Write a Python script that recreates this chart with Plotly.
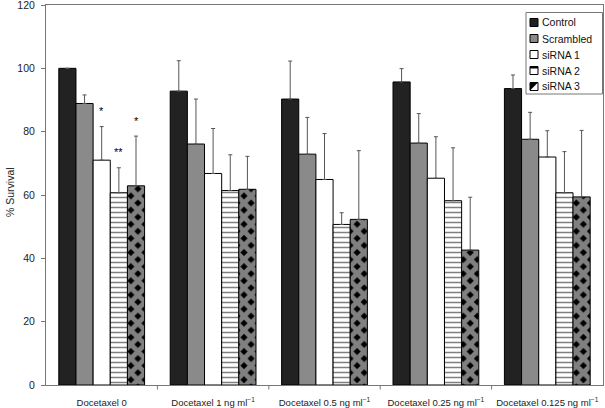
import plotly.graph_objects as go

categories = ["Docetaxel 0", "Docetaxel 1 ng ml<sup>\u22121</sup>", "Docetaxel 0.5 ng ml<sup>\u22121</sup>",
              "Docetaxel 0.25 ng ml<sup>\u22121</sup>", "Docetaxel 0.125 ng ml<sup>\u22121</sup>"]
series_names = ["Control", "Scrambled", "siRNA 1", "siRNA 2", "siRNA 3"]

control = [100.0, 92.8, 90.3, 95.7, 93.6]
scrambled = [88.9, 76.1, 72.9, 76.4, 77.6]
sirna1 = [71.0, 66.8, 64.9, 65.3, 72.0]
sirna2 = [60.7, 61.4, 50.7, 58.2, 60.7]
sirna3 = [62.9, 61.8, 52.3, 42.6, 59.4]

control_err = [0.0, 9.6, 12.0, 4.2, 4.3]
scrambled_err = [2.7, 14.2, 11.6, 9.3, 8.5]
sirna1_err = [10.6, 14.2, 14.5, 13.1, 8.3]
sirna2_err = [7.9, 11.3, 3.7, 16.7, 13.0]
sirna3_err = [15.7, 10.4, 21.7, 16.7, 21.0]

# significance marks: (group index, series index, label)
stars = [(0, 2, "*"), (0, 3, "**"), (0, 4, "*")]

values = [control, scrambled, sirna1, sirna2, sirna3]
errors = [control_err, scrambled_err, sirna1_err, sirna2_err, sirna3_err]

styles = [
    dict(color="#222222"),
    dict(color="#8a8a8a"),
    dict(color="white"),
    dict(color="white", pattern=dict(shape="-", fgcolor="black", bgcolor="white", size=5, solidity=0.3)),
    dict(color="white", pattern=dict(shape="x", fgcolor="white", bgcolor="black", size=10, solidity=0.75)),
]

W, H = 605, 408
L, R, T, B = 46, 2, 5, 23
PW, PH = W - L - R, H - T - B


def px(xp):
    return (xp - L) / PW


def py(yp):
    return (H - B - yp) / PH


fig = go.Figure()
for name, vals, errs, st in zip(series_names, values, errors, styles):
    fig.add_trace(go.Bar(
        name=name, x=list(range(len(categories))), y=vals, showlegend=False,
        marker=dict(line=dict(color="black", width=1), **st),
        error_y=dict(type="data", symmetric=False, array=errs, arrayminus=[0] * len(errs),
                     color="#555555", thickness=1, width=2),
    ))

gap = 0.23
bw = (1 - gap) / len(series_names)
for g, s, lab in stars:
    top = values[s][g] + errors[s][g]
    fig.add_annotation(x=g + (s - 2) * bw, y=top + 2.4, text=lab, showarrow=False,
                       xref="x", yref="y", yanchor="bottom",
                       font=dict(size=11, color="#000000"))

# custom legend (box, swatches, labels)
fig.add_shape(type="rect", xref="paper", yref="paper", x0=px(526), x1=px(602.5), y0=py(94), y1=py(12.5),
              line=dict(color="#777", width=1), fillcolor="white", layer="above")
fills = ["#222222", "#8a8a8a", "white", "white", "white"]
for i, name in enumerate(series_names):
    yc = 22.5 + 16 * i
    fig.add_shape(type="rect", xref="paper", yref="paper", x0=px(530), x1=px(538),
                  y0=py(yc + 4), y1=py(yc - 4), fillcolor=fills[i],
                  line=dict(color="black", width=1), layer="above")
    if i == 3:
        fig.add_shape(type="rect", xref="paper", yref="paper", x0=px(530), x1=px(538),
                      y0=py(yc - 2), y1=py(yc - 4), fillcolor="black",
                      line=dict(color="black", width=0), layer="above")
    if i == 4:
        fig.add_shape(type="path", xref="paper", yref="paper",
                      path="M %f,%f L %f,%f L %f,%f Z" % (px(530), py(yc + 4), px(538), py(yc - 4),
                                                         px(530), py(yc - 4)),
                      fillcolor="black", line=dict(color="black", width=0), layer="above")
    fig.add_annotation(x=px(539.5), y=py(yc), xref="paper", yref="paper", text=name,
                       showarrow=False, xanchor="left", yanchor="middle",
                       font=dict(size=10.5, color="#111"))

# y-axis title
fig.add_annotation(x=px(10), y=py(192), xref="paper", yref="paper", text="% Survival",
                   showarrow=False, textangle=-90, xanchor="center", yanchor="middle",
                   font=dict(size=10.5, color="#222"))

fig.update_layout(
    width=W, height=H,
    margin=dict(l=L, r=R, t=T, b=B, autoexpand=False),
    barmode="group", bargap=gap, bargroupgap=0,
    plot_bgcolor="white", paper_bgcolor="white",
    font=dict(family="Liberation Sans, Arial, sans-serif", size=10, color="#222"),
    showlegend=False,
)
fig.update_xaxes(tickmode="array", tickvals=list(range(len(categories))), ticktext=categories,
                 range=[-0.5, len(categories) - 0.5], automargin=False, ticklabeloverflow="allow",
                 showline=True, linecolor="#777", linewidth=1, mirror=True,
                 ticks="outside", ticklen=9, tickcolor="rgba(0,0,0,0)",
                 showgrid=False, tickfont=dict(size=9.5))
fig.update_yaxes(range=[0, 120], dtick=20, showline=True, linecolor="#777", linewidth=1,
                 mirror=True, ticks="outside", ticklen=4, tickcolor="#777", showgrid=False,
                 automargin=False, ticklabeloverflow="allow", ticklabelstandoff=4,
                 tickfont=dict(size=10.5))
# boundary tick marks between groups
for b in [0.5, 1.5, 2.5, 3.5]:
    fig.add_shape(type="line", xref="x", yref="paper", x0=b, x1=b, y0=0, y1=-0.012,
                  line=dict(color="#777", width=1))

fig.write_html("out.html", config={"displayModeBar": False},
               post_script="document.body.style.margin='0px';")
